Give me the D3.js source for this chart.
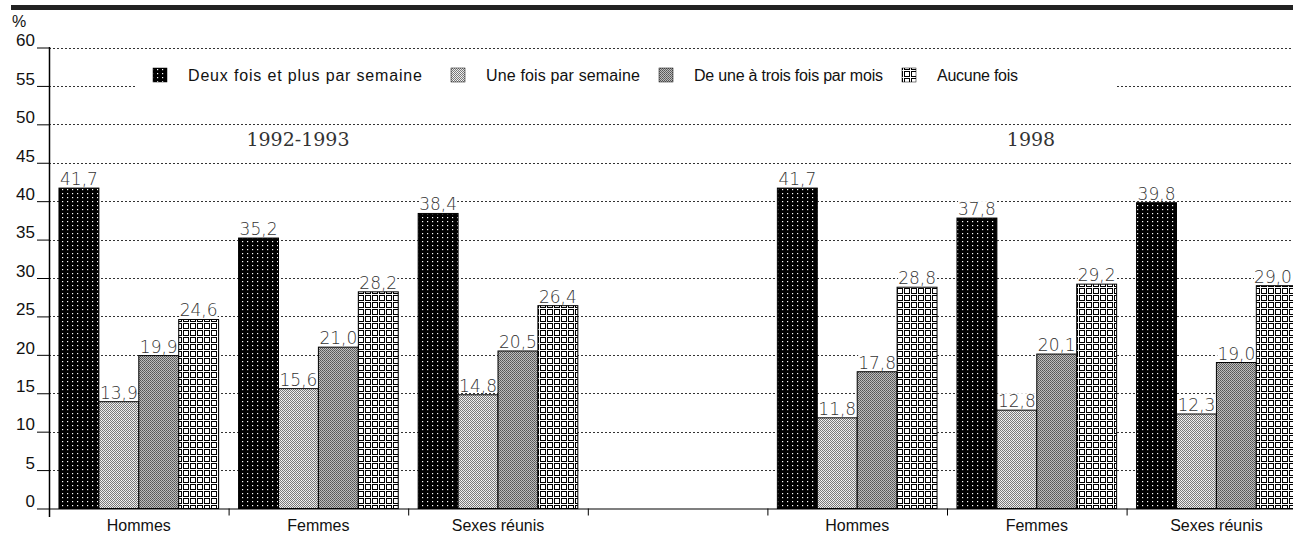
<!DOCTYPE html>
<html><head><meta charset="utf-8">
<script src="https://cdn.jsdelivr.net/npm/d3@7"></script>
<style>body{margin:0;background:#fff}svg{display:block}</style>
</head><body>
<svg id="c" width="1293" height="533"></svg>
<script>
const categories = ["Hommes", "Femmes", "Sexes réunis", "", "Hommes", "Femmes", "Sexes réunis"];
const seriesNames = ["Deux fois et plus par semaine", "Une fois par semaine", "De une à trois fois par mois", "Aucune fois"];
const deuxFois = [41.7, 35.2, 38.4, null, 41.7, 37.8, 39.8];
const uneFois = [13.9, 15.6, 14.8, null, 11.8, 12.8, 12.3];
const unATrois = [19.9, 21.0, 20.5, null, 17.8, 20.1, 19.0];
const aucune = [24.6, 28.2, 26.4, null, 28.8, 29.2, 29.0];
const yTicks = [0, 5, 10, 15, 20, 25, 30, 35, 40, 45, 50, 55, 60];
const periods = ["1992-1993", "1998"];

const series = [deuxFois, uneFois, unATrois, aucune];
const svg = d3.select("#c");
const defs = svg.append("defs");

// patterns
let p = defs.append("pattern").attr("id","p0").attr("patternUnits","userSpaceOnUse").attr("width",5).attr("height",4);
p.append("rect").attr("width",5).attr("height",4).attr("fill","#000");
p.append("rect").attr("x",2).attr("y",1).attr("width",1.2).attr("height",1.2).attr("fill","#fff");

p = defs.append("pattern").attr("id","p1").attr("patternUnits","userSpaceOnUse").attr("width",4).attr("height",4);
p.append("rect").attr("width",4).attr("height",4).attr("fill","#ececec");
p.append("path").attr("d","M0,0h1v1h-1zM2,0h1v1h-1zM1,1h1v1h-1zM3,1h1v1h-1zM0,2h1v1h-1zM2,2h1v1h-1zM1,3h1v1h-1zM3,3h1v1h-1z").attr("fill","#7a7a7a");
p.append("rect").attr("x",1).attr("y",0).attr("width",1).attr("height",1).attr("fill","#fff");

p = defs.append("pattern").attr("id","p2").attr("patternUnits","userSpaceOnUse").attr("width",2).attr("height",2);
p.append("rect").attr("width",2).attr("height",2).attr("fill","#bdbdbd");
p.append("rect").attr("width",1).attr("height",1).attr("fill","#555");
p.append("rect").attr("x",1).attr("y",1).attr("width",1).attr("height",1).attr("fill","#666");

p = defs.append("pattern").attr("id","p3").attr("patternUnits","userSpaceOnUse").attr("width",7).attr("height",7);
p.append("rect").attr("width",7).attr("height",7).attr("fill","#fff");
p.append("rect").attr("x",1.5).attr("y",1.5).attr("width",5).attr("height",5).attr("fill","none").attr("stroke","#000").attr("stroke-width",1);

const fills = ["url(#p0)","url(#p1)","url(#p2)","url(#p3)"];

const x0 = 49, step = 179.6;
const x = d3.scaleBand().domain(d3.range(categories.length)).range([x0, x0 + step*categories.length]).padding(0);
const xs = d3.scaleBand().domain(d3.range(4)).range([0, x.bandwidth()]).paddingInner(0).paddingOuter(0.25);
const y = d3.scaleLinear().domain([0, 60]).range([508.5, 47.5]);

// top thick bar
svg.append("rect").attr("x",11).attr("y",5).attr("width",1282).attr("height",5).attr("fill","#222");

// gridlines
svg.append("g").selectAll("line").data(yTicks.filter(d=>d>0)).join("line")
  .attr("x1",x0).attr("x2",1293).attr("y1",d=>Math.round(y(d))+0.5).attr("y2",d=>Math.round(y(d))+0.5)
  .attr("stroke","#333").attr("stroke-width",1).attr("stroke-dasharray","2,2");

// legend box (white) covering gridline
const lg = svg.append("g");
lg.append("rect").attr("x",135).attr("y",60).attr("width",980).attr("height",34).attr("fill","#fff");
const legendX = [153, 451, 659, 902];
const legendW = [234, 154, 189, 81];
seriesNames.forEach((n,i)=>{
  lg.append("rect").attr("x",legendX[i]).attr("y",68).attr("width",14).attr("height",14).attr("fill",fills[i]).attr("stroke","#000").attr("stroke-width",0.5);
  lg.append("text").attr("x",legendX[i]+35).attr("y",81).text(n)
    .attr("textLength",legendW[i]).attr("lengthAdjust","spacing")
    .attr("font-family","Liberation Sans, Arial, sans-serif").attr("font-size",16).attr("fill","#111");
});

// period labels
svg.append("g").selectAll("text").data(periods).join("text")
  .attr("x",(d,i)=> i===0 ? 298 : 1031).attr("y",146).attr("text-anchor","middle")
  .attr("font-family","DejaVu Serif, serif").attr("font-size",19).attr("font-weight",200).attr("fill","#333").text(d=>d);

// bars
const rows = [];
categories.forEach((c,ci)=>{ series.forEach((s,si)=>{ if (s[ci]!=null) rows.push({ci,si,v:s[ci]}); }); });
const bg = svg.append("g");
bg.selectAll("rect").data(rows).join("rect")
  .attr("x",d=>x(d.ci)+xs(d.si)).attr("width",xs.bandwidth())
  .attr("y",d=>y(d.v)).attr("height",d=>y(0)-y(d.v))
  .attr("fill",d=>fills[d.si]).attr("stroke","#000").attr("stroke-width",1);

// value labels with white backgrounds
const fmt = v => d3.format(".1f")(v).replace(".", ",");
const lab = svg.append("g");
rows.forEach(d=>{
  const cx = Math.min(x(d.ci)+xs(d.si)+xs.bandwidth()/2, 1293 - 20);
  const ty = y(d.v)-3;
  lab.append("rect").attr("x",cx-19).attr("y",ty-14).attr("width",38).attr("height",15).attr("fill","#fff");
  lab.append("text").attr("x",cx).attr("y",ty).attr("text-anchor","middle")
    .attr("font-family","DejaVu Sans, sans-serif").attr("font-size",17).attr("font-weight",200).attr("fill","#333").text(fmt(d.v));
});

// y axis
const ya = svg.append("g").attr("transform",`translate(${x0},0)`)
  .call(d3.axisLeft(y).tickValues(yTicks).tickSize(12).tickPadding(2));
ya.select(".domain").remove();
ya.selectAll("line").attr("stroke","#000");
ya.selectAll("text").attr("font-family","Liberation Sans, Arial, sans-serif").attr("font-size",17).attr("fill","#111").attr("dy","-0.1em");
svg.append("line").attr("x1",x0+0.5).attr("x2",x0+0.5).attr("y1",47).attr("y2",517).attr("stroke","#000").attr("stroke-width",1.5);
svg.append("text").attr("x",12).attr("y",27).text("%").attr("font-family","Liberation Sans, Arial, sans-serif").attr("font-size",16).attr("fill","#111");

// x axis
svg.append("line").attr("x1",x0).attr("x2",1293).attr("y1",y(0)+0.5).attr("y2",y(0)+0.5).attr("stroke","#000").attr("stroke-width",1.2);
svg.append("g").selectAll("line").data(d3.range(1,categories.length)).join("line")
  .attr("x1",d=>x(d)+0.5).attr("x2",d=>x(d)+0.5).attr("y1",y(0)).attr("y2",y(0)+7).attr("stroke","#000");
svg.append("g").selectAll("text").data(categories.map((c,i)=>({c,i})).filter(d=>d.c)).join("text")
  .attr("x",d=>x(d.i)+x.bandwidth()/2).attr("y",531).attr("text-anchor","middle")
  .attr("font-family","Liberation Sans, Arial, sans-serif").attr("font-size",16).attr("fill","#111").text(d=>d.c);
</script>
</body></html>
